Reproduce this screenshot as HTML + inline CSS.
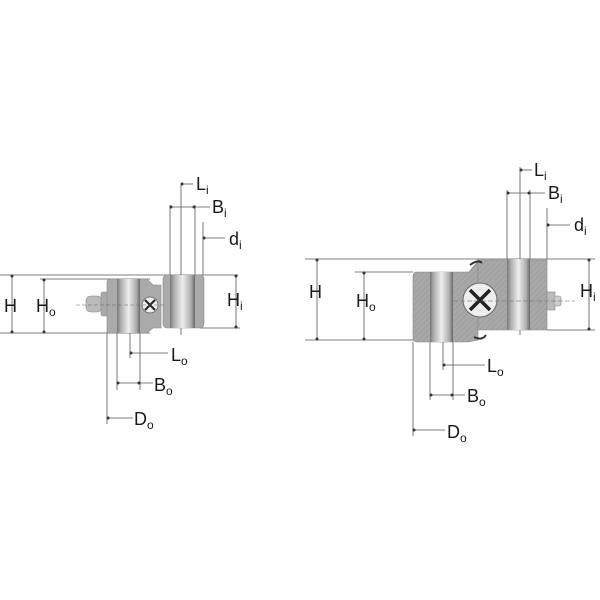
<!DOCTYPE html>
<html><head><meta charset="utf-8"><style>
html,body{margin:0;padding:0;background:#fff;}
svg{display:block;}
text{font-family:"Liberation Sans",sans-serif;fill:#1a1a1a;font-size:18px;}
.s{font-size:12px;}
</style></head><body>
<svg width="600" height="600" viewBox="0 0 600 600" xmlns="http://www.w3.org/2000/svg">
<defs>
<linearGradient id="bore" x1="0" x2="1" y1="0" y2="0">
<stop offset="0" stop-color="#777"/><stop offset="0.15" stop-color="#aaa"/><stop offset="0.5" stop-color="#eee"/><stop offset="0.85" stop-color="#aaa"/><stop offset="1" stop-color="#666"/>
</linearGradient>
<pattern id="hat" width="4" height="4" patternUnits="userSpaceOnUse" patternTransform="rotate(45)">
<rect width="4" height="4" fill="#a8a8a8"/><line x1="0" y1="0" x2="0" y2="4" stroke="#959595" stroke-width="1"/>
</pattern>
</defs>
<g stroke="#555" stroke-width="0.8" fill="none">
<line x1="0" y1="275" x2="238" y2="275"/>
<line x1="40" y1="279" x2="150" y2="279"/>
<line x1="0" y1="333" x2="150" y2="333"/>
<line x1="200" y1="328" x2="240" y2="328"/>
<line x1="12" y1="276" x2="12" y2="332"/>
<line x1="44" y1="280" x2="44" y2="332"/>
<line x1="236" y1="276" x2="236" y2="327"/>
<line x1="170" y1="205" x2="170" y2="275"/>
<line x1="181" y1="184" x2="181" y2="335"/>
<line x1="195" y1="205" x2="195" y2="275"/>
<line x1="203" y1="222" x2="203" y2="275"/>
<line x1="181" y1="184" x2="193" y2="184"/>
<line x1="170" y1="207" x2="210" y2="207"/>
<line x1="203" y1="238" x2="225" y2="238"/>
<line x1="107" y1="333" x2="107" y2="424"/>
<line x1="117" y1="333" x2="117" y2="390"/>
<line x1="140" y1="333" x2="140" y2="390"/>
<line x1="130" y1="280" x2="130" y2="358"/>
<line x1="130" y1="353" x2="168" y2="353"/>
<line x1="117" y1="383" x2="153" y2="383"/>
<line x1="107" y1="418" x2="133" y2="418"/>
<line x1="305" y1="259" x2="595" y2="259"/>
<line x1="355" y1="272" x2="413" y2="272"/>
<line x1="305" y1="340" x2="413" y2="340"/>
<line x1="547" y1="330" x2="595" y2="330"/>
<line x1="317" y1="260" x2="317" y2="339"/>
<line x1="364" y1="273" x2="364" y2="339"/>
<line x1="589" y1="260" x2="589" y2="329"/>
<line x1="507" y1="190" x2="507" y2="259"/>
<line x1="520" y1="167" x2="520" y2="335"/>
<line x1="530" y1="190" x2="530" y2="259"/>
<line x1="547" y1="208" x2="547" y2="259"/>
<line x1="520" y1="170" x2="532" y2="170"/>
<line x1="507" y1="193" x2="545" y2="193"/>
<line x1="547" y1="225" x2="570" y2="225"/>
<line x1="413" y1="342" x2="413" y2="436"/>
<line x1="430" y1="342" x2="430" y2="400"/>
<line x1="453" y1="342" x2="453" y2="400"/>
<line x1="443" y1="342" x2="443" y2="370"/>
<line x1="443" y1="365" x2="485" y2="365"/>
<line x1="430" y1="395" x2="465" y2="395"/>
<line x1="413" y1="430" x2="445" y2="430"/>
</g>
<g fill="#333">
<circle cx="12" cy="276" r="1.5"/><circle cx="12" cy="332" r="1.5"/>
<circle cx="44" cy="280" r="1.5"/><circle cx="44" cy="332" r="1.5"/>
<circle cx="236" cy="276" r="1.5"/><circle cx="236" cy="327" r="1.5"/>
<circle cx="182" cy="184" r="1.5"/><circle cx="171" cy="207" r="1.5"/><circle cx="194" cy="207" r="1.5"/><circle cx="204" cy="238" r="1.5"/>
<circle cx="131" cy="353" r="1.5"/><circle cx="118" cy="383" r="1.5"/><circle cx="139" cy="383" r="1.5"/><circle cx="108" cy="418" r="1.5"/>
<circle cx="317" cy="260" r="1.5"/><circle cx="317" cy="339" r="1.5"/>
<circle cx="364" cy="273" r="1.5"/><circle cx="364" cy="339" r="1.5"/>
<circle cx="589" cy="260" r="1.5"/><circle cx="589" cy="329" r="1.5"/>
<circle cx="521" cy="170" r="1.5"/><circle cx="508" cy="193" r="1.5"/><circle cx="529" cy="193" r="1.5"/><circle cx="548" cy="225" r="1.5"/>
<circle cx="444" cy="365" r="1.5"/><circle cx="431" cy="395" r="1.5"/><circle cx="452" cy="395" r="1.5"/><circle cx="414" cy="430" r="1.5"/>
</g>
<rect x="86" y="296" width="16" height="16" rx="5" fill="#bbb" stroke="#888" stroke-width="0.6"/>
<rect x="101" y="292" width="8" height="24" rx="2" fill="#aaa" stroke="#888" stroke-width="0.6"/>
<path d="M107,282 q0,-3 4,-3 h36 l6,6 h8 v43 h-8 l-6,5 h-40 v-3 z" fill="#aaa" stroke="#888" stroke-width="0.6"/>
<rect x="117" y="279" width="23" height="54" fill="url(#bore)"/>
<rect x="163" y="275" width="41" height="53" rx="4" fill="#aaa" stroke="#888" stroke-width="0.6"/>
<rect x="170" y="275" width="25" height="53" fill="url(#bore)"/>
<circle cx="150" cy="305" r="8" fill="#eee" stroke="#777"/>
<path d="M145,300 l10,10 M155,300 l-10,10" stroke="#222" stroke-width="2"/>
<line x1="76" y1="305" x2="165" y2="305" stroke="#666" stroke-width="0.6" stroke-dasharray="4,2"/>
<path d="M413,276 q0,-4 4,-4 h52 l10,-12 h-1 v80 l-10,2 h-51 q-4,0 -4,-4 z" fill="url(#hat)" stroke="#888" stroke-width="0.6"/>
<path d="M478,260 h69 v70 h-69 z" fill="url(#hat)" stroke="#888" stroke-width="0.6"/>
<rect x="430" y="272" width="23" height="70" fill="url(#bore)"/>
<rect x="507" y="259" width="23" height="71" fill="url(#bore)"/>
<rect x="547" y="292" width="8" height="18" fill="#bbb" stroke="#888" stroke-width="0.6"/>
<rect x="554" y="296" width="7" height="10" rx="2" fill="#ccc" stroke="#888" stroke-width="0.6"/>
<circle cx="480" cy="300" r="17" fill="#eee" stroke="#666"/>
<path d="M470,290 l20,20 M490,290 l-20,20" stroke="#222" stroke-width="3.5"/>
<path d="M470,265 q8,-6 12,-2 M474,337 q8,4 12,-2" stroke="#333" stroke-width="2" fill="none"/>
<line x1="453" y1="301" x2="575" y2="301" stroke="#666" stroke-width="0.6" stroke-dasharray="5,2"/>
<text x="4" y="312">H</text>
<text x="36" y="312">H<tspan class="s" dy="4">o</tspan></text>
<text x="227" y="306">H<tspan class="s" dy="4">i</tspan></text>
<text x="196" y="190">L<tspan class="s" dy="4">i</tspan></text>
<text x="212" y="213">B<tspan class="s" dy="4">i</tspan></text>
<text x="229" y="245">d<tspan class="s" dy="4">i</tspan></text>
<text x="171" y="361">L<tspan class="s" dy="4">o</tspan></text>
<text x="154" y="391">B<tspan class="s" dy="4">o</tspan></text>
<text x="134" y="425">D<tspan class="s" dy="4">o</tspan></text>
<text x="309" y="298">H</text>
<text x="356" y="307">H<tspan class="s" dy="4">o</tspan></text>
<text x="580" y="297">H<tspan class="s" dy="4">i</tspan></text>
<text x="534" y="176">L<tspan class="s" dy="4">i</tspan></text>
<text x="548" y="199">B<tspan class="s" dy="4">i</tspan></text>
<text x="574" y="231">d<tspan class="s" dy="4">i</tspan></text>
<text x="487" y="372">L<tspan class="s" dy="4">o</tspan></text>
<text x="467" y="402">B<tspan class="s" dy="4">o</tspan></text>
<text x="447" y="438">D<tspan class="s" dy="4">o</tspan></text>
</svg>
</body></html>
